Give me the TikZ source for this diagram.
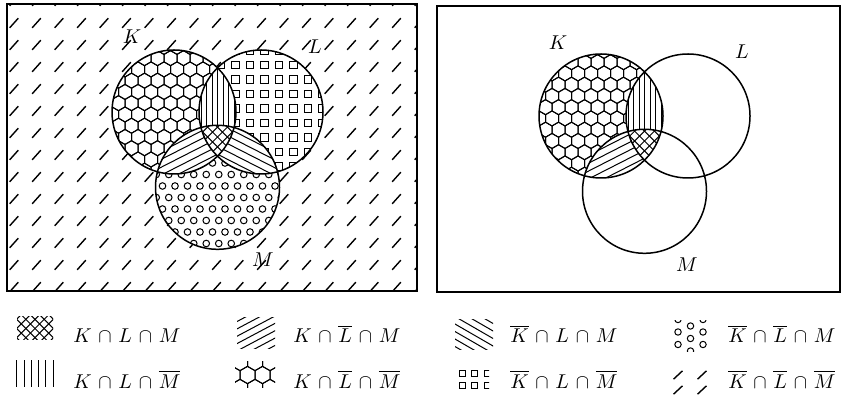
\documentclass[tikz,border=0pt]{standalone}
\usepackage{amsmath}
\tikzset{
  pat/.style={line width=1pt},
  dashpat/.style={line width=1.4pt},
  outline/.style={line width=1.5pt},
  panel/.style={line width=1.5pt},
  lab/.style={scale=2, inner sep=0pt},
  legtxt/.style={scale=2, anchor=base west, inner sep=0pt},
}
\newcommand{\kap}{\mskip2mu\cap\mskip2mu}
% honeycomb: x0 y0 x1 y1 width
\newcommand{\myhex}[5]{%
  \pgfmathsetmacro{\hxs}{#5/sqrt(3)}%
  \pgfmathsetmacro{\hxv}{1.5*\hxs}%
  \pgfmathtruncatemacro{\hxnj}{(#4-#2)/\hxv+1}%
  \pgfmathtruncatemacro{\hxni}{(#3-#1)/#5+1}%
  \foreach \j in {0,...,\hxnj}{%
    \foreach \i in {0,...,\hxni}{%
      \pgfmathsetmacro{\hxcx}{#1+\i*#5+mod(\j,2)*#5/2}%
      \pgfmathsetmacro{\hxcy}{#2+\j*\hxv}%
      \draw[pat] (\hxcx,\hxcy) +(30:\hxs) -- +(90:\hxs) -- +(150:\hxs) -- +(210:\hxs) -- +(270:\hxs) -- +(330:\hxs) -- cycle;
    }%
  }%
}
% squares: x0 y0 x1 y1 spacing side
\newcommand{\mysq}[6]{%
  \pgfmathtruncatemacro{\sqni}{(#3-#1)/#5}%
  \pgfmathtruncatemacro{\sqnj}{(#4-#2)/#5}%
  \foreach \i in {0,...,\sqni}{\foreach \j in {0,...,\sqnj}{%
    \draw[pat] ({#1+\i*#5-#6/2},{#2+\j*#5-#6/2}) rectangle +(#6,#6);
  }}%
}
% staggered dots: x0 y0 x1 y1 hspacing radius
\newcommand{\mydots}[6]{%
  \pgfmathsetmacro{\dtv}{0.92*#5}%
  \pgfmathtruncatemacro{\dtni}{(#3-#1)/#5}%
  \pgfmathtruncatemacro{\dtnj}{(#4-#2)/\dtv}%
  \foreach \i in {0,...,\dtni}{\foreach \j in {0,...,\dtnj}{%
    \draw[pat] ({#1+\i*#5+mod(\j,2)*#5/2},{#2+\j*\dtv}) circle (#6);
  }}%
}
% parallel lines: cx cy R angle spacing
\newcommand{\mylines}[5]{%
  \begin{scope}[shift={(#1,#2)},rotate=#4]
    \pgfmathtruncatemacro{\lnn}{#3/#5+1}%
    \foreach \k in {-\lnn,...,\lnn}{\draw[pat] (-#3,\k*#5) -- (#3,\k*#5);}
  \end{scope}%
}
\begin{document}
\begin{tikzpicture}[x=1pt,y=1pt]
\useasboundingbox (0,0) rectangle (842,401);
% ---------------- left panel ----------------
\coordinate (K1) at (174,289);
\coordinate (L1) at (261,289);
\coordinate (M1) at (217.5,213.7);
\begin{scope}
  \clip (7,110) rectangle (417,397);
  \foreach \r in {0,...,13}{\foreach \c in {0,...,18}{%
    \draw[dashpat] ({14+22.5*\c-4.3},{400-22*\r-4.8}) -- ++(8.6,9.6);
  }}
\end{scope}
\fill[white] (K1) circle (62) (L1) circle (62) (M1) circle (62);
\begin{scope}
  \clip (K1) circle (62);
  \myhex{99}{219}{245}{360}{13}
\end{scope}
\begin{scope}
  \clip (L1) circle (62);
  \fill[white] (L1) circle (62);
  \mysq{192}{220}{335}{360}{14.5}{7.5}
\end{scope}
\begin{scope}
  \clip (M1) circle (62);
  \fill[white] (M1) circle (62);
  \mydots{150}{146}{292}{285}{12.5}{3.3}
\end{scope}
\begin{scope}
  \clip (K1) circle (62);
  \clip (L1) circle (62);
  \fill[white] (K1) circle (62);
  \mylines{217.5}{289}{70}{90}{5.5}
\end{scope}
\begin{scope}
  \clip (K1) circle (62);
  \clip (M1) circle (62);
  \fill[white] (K1) circle (62);
  \mylines{195}{251}{70}{27}{7}
\end{scope}
\begin{scope}
  \clip (L1) circle (62);
  \clip (M1) circle (62);
  \fill[white] (L1) circle (62);
  \mylines{240}{251}{70}{-27}{7}
\end{scope}
\begin{scope}
  \clip (K1) circle (62);
  \clip (L1) circle (62);
  \clip (M1) circle (62);
  \fill[white] (K1) circle (62);
  \mylines{217.5}{264}{40}{45}{7}
  \mylines{217.5}{264}{40}{-45}{7}
\end{scope}
\draw[outline] (K1) circle (62) (L1) circle (62) (M1) circle (62);
\draw[panel] (7,110) rectangle (417,397);
\node[lab] (lK1) at (132,364) {$K$};
\node[lab] (lL1) at (315,354) {$L$};
\node[lab] (lM1) at (263,141) {$M$};
% ---------------- right panel ----------------
\coordinate (K2) at (601,285);
\coordinate (L2) at (688,285);
\coordinate (M2) at (644.5,209.7);
\begin{scope}
  \clip (K2) circle (62);
  \myhex{526}{215}{672}{356}{13}
\end{scope}
\begin{scope}
  \clip (K2) circle (62);
  \clip (L2) circle (62);
  \fill[white] (K2) circle (62);
  \mylines{644.5}{285}{70}{90}{5.5}
\end{scope}
\begin{scope}
  \clip (K2) circle (62);
  \clip (M2) circle (62);
  \fill[white] (K2) circle (62);
  \mylines{622}{247}{70}{27}{7}
\end{scope}
\begin{scope}
  \clip (K2) circle (62);
  \clip (L2) circle (62);
  \clip (M2) circle (62);
  \fill[white] (K2) circle (62);
  \mylines{644.5}{260}{40}{45}{7}
  \mylines{644.5}{260}{40}{-45}{7}
\end{scope}
\draw[outline] (K2) circle (62) (L2) circle (62) (M2) circle (62);
\draw[panel] (437,109) rectangle (840,395);
\node[lab] (lK2) at (558,358) {$K$};
\node[lab] (lL2) at (742,349) {$L$};
\node[lab] (lM2) at (687,136) {$M$};
% ---------------- legend ----------------
% col 1
\begin{scope}
  \clip (17,61) rectangle (53,84);
  \mylines{35}{72.5}{30}{45}{6.5}
  \mylines{35}{72.5}{30}{-45}{6.5}
\end{scope}
\foreach \x in {0,...,5}{\draw[pat] ({16.7+7.3*\x},14) -- ++(0,27);}
\node[legtxt] (t1) at (73,58) {$K\kap L\kap M$};
\node[legtxt] (t2) at (73,13) {$K\kap L\kap \overline{M}$};
% col 2
\begin{scope}
  \clip (237,52) rectangle (275,83);
  \mylines{256}{67.5}{30}{28}{6.5}
\end{scope}
\begin{scope}
  \clip (235,13) rectangle (275,39);
  \myhex{225}{13}{285}{45}{15}
\end{scope}
\node[legtxt] (t3) at (293,58) {$K\kap \overline{L}\kap M$};
\node[legtxt] (t4) at (293,13) {$K\kap \overline{L}\kap \overline{M}$};
% col 3
\begin{scope}
  \clip (455,51) rectangle (493,81);
  \mylines{474}{66}{30}{-30}{6.5}
\end{scope}
\begin{scope}
  \clip (456,11) rectangle (489,35);
  \mysq{462}{15}{490}{30}{12.5}{6}
\end{scope}
\node[legtxt] (t5) at (510,58) {$\overline{K}\kap L\kap M$};
\node[legtxt] (t6) at (510,13) {$\overline{K}\kap L\kap \overline{M}$};
% col 4
\begin{scope}
  \clip (674,49) rectangle (709,80);
  \foreach \yy in {81.5,69,56.5}{\draw[pat] (678,\yy) circle (3.2) (703,\yy) circle (3.2);}
  \foreach \yy in {75,62.5,50}{\draw[pat] (690.5,\yy) circle (3.2);}
\end{scope}
\foreach \xx/\yy in {678/26,702/26,678/11,702/11}{\draw[dashpat] (\xx-4.5,\yy-4.2) -- ++(9,8.4);}
\node[legtxt] (t7) at (728,58) {$\overline{K}\kap \overline{L}\kap M$};
\node[legtxt] (t8) at (728,13) {$\overline{K}\kap \overline{L}\kap \overline{M}$};
\end{tikzpicture}
\end{document}
